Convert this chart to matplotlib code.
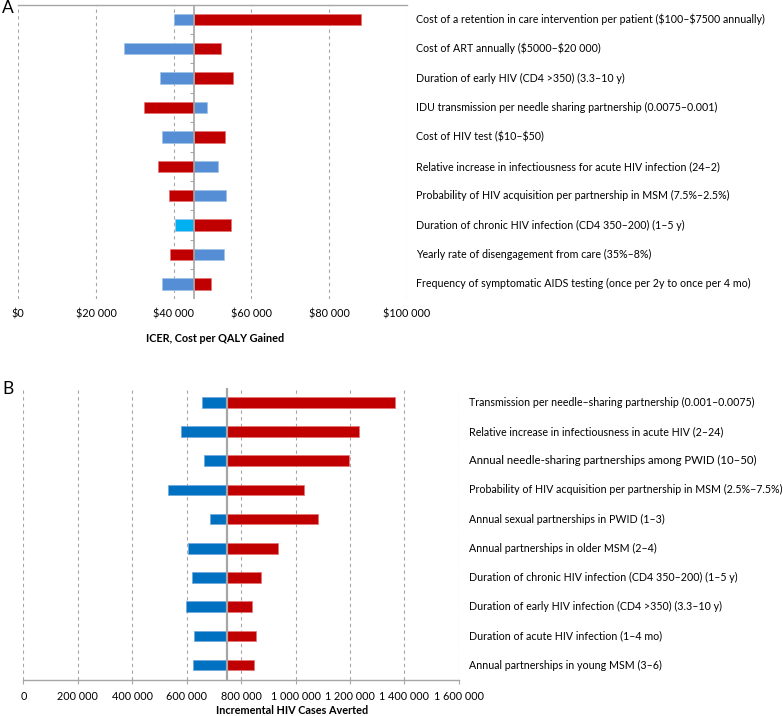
import matplotlib.pyplot as plt
import matplotlib.transforms as mtransforms
import numpy as np

plt.rcParams['font.family'] = ['Lato', 'DejaVu Sans']
plt.rcParams['text.parse_math'] = False

# panel A: ICER tornado
a_labels = [
    "Cost of a retention in care intervention per patient ($100\u2013$7500 annually)",
    "Cost of ART annually ($5000\u2013$20 000)",
    "Duration of early HIV (CD4 >350) (3.3\u201310 y)",
    "IDU transmission per needle sharing partnership (0.0075\u20130.001)",
    "Cost of HIV test ($10\u2013$50)",
    "Relative increase in infectiousness for acute HIV infection (24\u20132)",
    "Probability of HIV acquisition per partnership in MSM (7.5%\u20132.5%)",
    "Duration of chronic HIV infection (CD4 350\u2013200) (1\u20135 y)",
    "Yearly rate of disengagement from care (35%\u20138%)",
    "Frequency of symptomatic AIDS testing (once per 2y to once per 4 mo)",
]
a_base = 45300
a_blue = [40000, 27200, 36500, 48700, 37100, 51400, 53500, 40300, 52900, 37100]
a_red = [88200, 52200, 55400, 32400, 53200, 35900, 38800, 54800, 39000, 49700]
a_ticks = [0, 20000, 40000, 60000, 80000, 100000]
a_ticklabels = ["$0", "$20 000", "$40 000", "$60 000", "$80 000", "$100 000"]

# panel B: HIV cases averted tornado
b_labels = [
    "Transmission per needle\u2013sharing partnership (0.001\u20130.0075)",
    "Relative increase in infectiousness in acute HIV (2\u201324)",
    "Annual needle-sharing partnerships among PWID (10\u201350)",
    "Probability of HIV acquisition per partnership in MSM (2.5%\u22127.5%)",
    "Annual sexual partnerships in PWID (1\u20133)",
    "Annual partnerships in older MSM (2\u20134)",
    "Duration of chronic HIV infection (CD4 350\u2013200) (1\u20135 y)",
    "Duration of early HIV infection (CD4 >350) (3.3\u201310 y)",
    "Duration of acute HIV infection (1\u20134 mo)",
    "Annual partnerships in young MSM (3\u20136)",
]
b_base = 750000
b_blue = [655000, 579000, 664000, 533000, 685000, 604000, 621000, 598000, 626000, 623000]
b_red = [1364000, 1234000, 1198000, 1030000, 1081000, 937000, 873000, 841000, 855000, 847000]
b_ticks = [0, 200000, 400000, 600000, 800000, 1000000, 1200000, 1400000, 1600000]
b_ticklabels = ["0", "200 000", "400 000", "600 000", "800 000",
                "1 000 000", "1 200 000", "1 400 000", "1 600 000"]

RED = '#C00000'
GRID = '#A6A6A6'
FS = 7.8
FS_A = 7.7
FS_B = 7.65

fig = plt.figure(figsize=(7.83, 7.16), dpi=100)
axA = fig.add_axes([0.0234, 0.5830, 0.4960, 0.4105])
axB = fig.add_axes([0.0298, 0.0507, 0.5562, 0.4078])

# ---- A ----
yA = np.arange(len(a_labels))
a_blue_colors = ['#558ED5'] * len(a_labels)
a_blue_colors[7] = '#00B0F0'
axA.barh(yA, np.array(a_blue) - a_base, left=a_base, height=0.39,
         color=a_blue_colors, edgecolor='#9DC3E6', linewidth=0.5, zorder=3)
axA.barh(yA, np.array(a_red) - a_base, left=a_base, height=0.39,
         color=RED, edgecolor='#E57373', linewidth=0.5, zorder=3)
axA.axvline(a_base, color=GRID, lw=1.2, zorder=4)
axA.hlines(np.arange(0.5, len(a_labels) - 1), a_base - 1000, a_base,
           color=GRID, lw=0.8, zorder=4)
axA.set_xlim(0, 100000)
axA.set_ylim(len(a_labels) - 0.5, -0.5)
axA.set_xticks(a_ticks, a_ticklabels)
axA.set_yticks([])
axA.tick_params(axis='x', length=0, labelsize=FS, pad=7)
axA.grid(axis='x', linestyle=(0, (3, 3)), color=GRID, lw=0.8, zorder=0)
for s in ['left', 'right', 'bottom']:
    axA.spines[s].set_visible(False)
axA.spines['top'].set_color(GRID)
axA.spines['top'].set_linewidth(1.0)
trA = mtransforms.blended_transform_factory(axA.transAxes, axA.transData)
for i, lab in enumerate(a_labels):
    axA.text(1.024, i, lab, transform=trA, ha='left', va='center', fontsize=FS_A)

# ---- B ----
yB = np.arange(len(b_labels))
axB.barh(yB, np.array(b_blue) - b_base, left=b_base, height=0.36,
         color='#0070C0', edgecolor='#6FA8DC', linewidth=0.5, zorder=3)
axB.barh(yB, np.array(b_red) - b_base, left=b_base, height=0.36,
         color=RED, edgecolor='#E57373', linewidth=0.5, zorder=3)
axB.axvline(b_base, color=GRID, lw=1.6, zorder=4)
axB.set_xlim(0, 1600000)
axB.set_ylim(len(b_labels) - 0.5, -0.5)
axB.set_xticks(b_ticks, b_ticklabels)
axB.set_yticks([])
axB.tick_params(axis='x', length=3, color=GRID, labelsize=FS, pad=5)
axB.grid(axis='x', linestyle=(0, (3, 3)), color=GRID, lw=0.8, zorder=0)
for s in ['left', 'right', 'top']:
    axB.spines[s].set_visible(False)
axB.spines['bottom'].set_color(GRID)
axB.spines['bottom'].set_linewidth(1.0)
trB = mtransforms.blended_transform_factory(axB.transAxes, axB.transData)
for i, lab in enumerate(b_labels):
    size = FS_B * 1.07 if i == 2 else FS_B
    axB.text(1.024, i, lab, transform=trB, ha='left', va='center', fontsize=size)

fig.text(215 / 783, 1 - 339 / 716, "ICER, Cost per QALY Gained",
         ha='center', va='center', fontsize=FS, fontweight='bold')
fig.text(292 / 783, 1 - 710.7 / 716, "Incremental HIV Cases Averted",
         ha='center', va='center', fontsize=FS, fontweight='bold')
fig.text(0.003, 1 - 8 / 716, "A", ha='left', va='center', fontsize=12.5)
fig.text(0.003, 1 - 389 / 716, "B", ha='left', va='center', fontsize=12.5)

fig.savefig("out.png", dpi=100)
